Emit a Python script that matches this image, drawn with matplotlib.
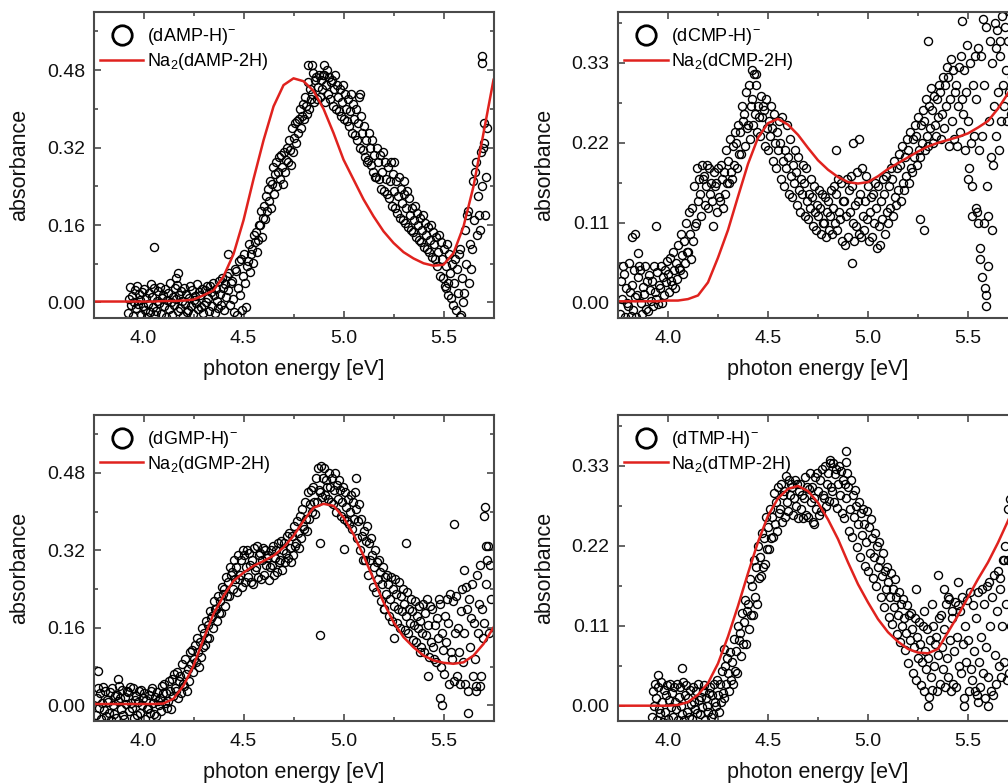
import matplotlib
matplotlib.use('Agg')

import matplotlib.pyplot as plt
import numpy as np
from matplotlib.lines import Line2D
from matplotlib.ticker import MultipleLocator, FormatStrFormatter

plt.rcParams['font.family'] = ['Liberation Sans', 'DejaVu Sans']
plt.rcParams['mathtext.default'] = 'regular'

# energies of the calculated curves (eV)
e_fit = np.round(np.arange(3.75, 5.751, 0.05), 3)

# measured spectra: one value every 5 meV, absorbance in units of 1e-3
amp_start = 3.92
amp_y = [
    -22, 8, 31, -5, 14, -28, 2, 25, -12, 35, -3, 18, 5, -25, 22, -8, 28, -15, 10, -30,
    -4, 20, -20, 38, 12, -10, 30, -26, -18, 4, 24, -2, 33, -23, 9, 16, -8, 27, -29, 6,
    20, -14, 40, 0, -26, 11, -6, 29, 7, 36, -17, 15, -11, 23, 3, -27, 30, -3, 18, -20,
    -16, 9, 34, -7, 25, -24, 5, 13, -1, 38, -13, 21, 16, -9, 28, -21, -5, 26, 2, 34,
    10, -18, 35, 22, -8, 40, 15, -22, 28, 4, -12, 45, 18, -5, 50, 30, -15, 38, 12, 55,
    25, 60, -6, 40, 45, 8, -20, 70, 65, -25, 30, 85, 15, 90, -15, 55, 100, 40, -10, 75,
    85, 120, 62, 100, 110, 82, 140, 125, 145, 105, 130, 160, 160, 190, 135, 175, 200, 172, 220, 190,
    235, 210, 250, 195, 245, 280, 225, 265, 290, 240, 270, 300, 255, 305, 280, 245, 310, 270, 295, 320,
    290, 335, 315, 285, 360, 310, 340, 370, 330, 375, 350, 380, 400, 360, 385, 410, 380, 425, 405, 390,
    455, 400, 440, 420, 430, 475, 415, 460, 465, 420, 445, 470, 425, 460, 440, 470, 470, 415, 450, 480,
    430, 465, 420, 455, 460, 405, 440, 470, 400, 450, 425, 395, 440, 385, 415, 450, 380, 430, 400, 375,
    420, 365, 395, 430, 350, 410, 380, 345, 400, 335, 370, 425, 320, 385, 350, 315, 365, 300, 335, 290,
    295, 350, 320, 285, 335, 270, 305, 260, 260, 320, 290, 255, 305, 235, 270, 310, 230, 290, 255, 225,
    280, 215, 250, 290, 200, 265, 230, 195, 250, 185, 220, 260, 175, 235, 205, 170, 225, 165, 195, 230,
    155, 215, 180, 150, 195, 145, 170, 200, 135, 185, 160, 130, 175, 125, 150, 180, 115, 165, 140, 110,
    155, 105, 130, 160, 95, 145, 120, 90, 135, 75, 105, 140, 55, 125, 90, 50, 110, 35, 75, 120,
    15, 100, 60, 10, 80, -5, 40, 90, -15, 70, 20, 100, 110, -25, 50, 0, 20, 150, 80, 180,
    190, 40, 120, 70, 110, 250, 170, 270, 290, 140, 220, 180, 150, 310, 240, 320, 330, 180, 260, 360]
amp_out_x = [4.05, 4.17, 4.16, 4.42, 4.84, 4.82, 4.90, 5.08, 5.69, 5.69, 5.70, 5.51, 5.52, 5.58, 5.25, 5.30]
amp_out_y = [115, 60, 50, 100, 490, 490, 490, 430, 510, 495, 370, 30, 40, -30, 290, 250]
amp_fit = [0.002, 0.002, 0.002, 0.002, 0.002, 0.002, 0.002, 0.003, 0.003, 0.004,
           0.006, 0.015, 0.025, 0.054, 0.10, 0.17, 0.255, 0.335, 0.405, 0.449,
           0.463, 0.457, 0.437, 0.40, 0.35, 0.295, 0.254, 0.213, 0.178, 0.147,
           0.123, 0.104, 0.091, 0.081, 0.076, 0.078, 0.102, 0.157, 0.24, 0.35, 0.46]

cmp_start = 3.76
cmp_y = [
    -15, 30, 5, 50, 40, -20, 20, 0, -5, 55, 15, -18, 25, -10, 45, 8, -20, 10, 35, 50,
    45, 0, -15, 22, 12, 50, -8, 30, -12, 38, 18, 2, 30, -5, 50, 15, 5, 42, -2, 25,
    20, 50, 0, 35, 10, 45, 28, 58, 40, 15, 62, 30, 25, 70, 45, 20, 55, 32, 80, 48,
    45, 95, 65, 40, 85, 55, 110, 70, 70, 125, 95, 60, 130, 85, 160, 105, 110, 185, 140, 170,
    150, 120, 190, 170, 175, 135, 160, 190, 130, 185, 150, 165, 140, 105, 180, 160, 165, 125, 185, 145,
    140, 190, 170, 130, 180, 150, 210, 165, 195, 165, 225, 180, 170, 215, 190, 235, 220, 185, 245, 205,
    235, 205, 270, 250, 260, 215, 290, 240, 245, 300, 225, 270, 280, 245, 315, 260, 300, 235, 270, 255,
    230, 285, 255, 270, 265, 215, 280, 240, 210, 250, 230, 270, 240, 195, 260, 220, 185, 235, 210, 250,
    220, 170, 255, 195, 160, 210, 185, 245, 200, 150, 225, 175, 145, 190, 165, 210, 180, 135, 200, 155,
    125, 170, 150, 190, 165, 120, 185, 140, 115, 150, 130, 170, 145, 105, 160, 125, 100, 135, 120, 155,
    130, 95, 150, 110, 110, 145, 90, 125, 140, 100, 120, 155, 95, 130, 160, 110, 150, 100, 170, 125,
    115, 165, 85, 140, 140, 80, 120, 170, 90, 155, 125, 175, 160, 110, 85, 135, 105, 180, 140, 95,
    150, 90, 185, 120, 100, 140, 175, 115, 160, 85, 125, 145, 90, 150, 110, 165, 130, 75, 160, 105,
    80, 140, 115, 170, 150, 95, 175, 125, 110, 160, 130, 185, 170, 120, 195, 145, 135, 185, 155, 205,
    190, 140, 215, 165, 155, 200, 175, 225, 210, 165, 235, 185, 180, 225, 200, 245, 230, 190, 255, 210,
    200, 245, 220, 265, 250, 210, 280, 230, 215, 270, 240, 295, 265, 220, 285, 245, 230, 280, 255, 300,
    290, 225, 260, 310, 240, 300, 270, 325, 310, 215, 280, 335, 250, 320, 225, 290, 300, 215, 270, 325,
    235, 340, 280, 260, 320, 210, 290, 355, 250, 185, 330, 220, 160, 300, 230, 340, 280, 125, 350, 210,
    60, 340, 230, 390, 300, 20, 380, 160, 120, 250, 360, 200, 330, 190, 270, 385, 230, 375, 290, 210,
    340, 250, 395, 300, 270, 380, 320, 250, 360, 290, 400, 260, 310, 395, 270, 350, 280, 370, 320, 400]
cmp_out_x = [3.82, 3.835, 3.85, 3.94, 4.42, 4.44, 4.84, 4.92, 4.925, 4.955, 5.28, 5.26, 5.30, 5.47,
             5.54, 5.55, 5.56, 5.57, 5.59, 5.59, 5.58, 5.60, 5.52, 5.50, 5.62, 5.64, 5.66]
cmp_out_y = [90, 94, 68, 105, 320, 315, 210, 55, 220, 225, 100, 115, 360, 387,
             130, 110, 75, 35, 10, -5, 110, 50, 120, 170, 100, 350, 360]
cmp_fit = [0.002, 0.002, 0.002, 0.002, 0.002, 0.003, 0.003, 0.005, 0.010, 0.028,
           0.062, 0.100, 0.146, 0.191, 0.227, 0.247, 0.253, 0.245, 0.231, 0.213,
           0.196, 0.183, 0.173, 0.166, 0.164, 0.166, 0.174, 0.184, 0.192, 0.200,
           0.208, 0.215, 0.220, 0.224, 0.228, 0.233, 0.241, 0.250, 0.267, 0.288, 0.315]

gmp_start = 3.76
gmp_y = [
    -20, 15, 35, -5, 25, -28, 5, 38, -10, 30, -22, 12, 8, -15, 28, -30, 35, 0, -18, 20,
    -25, 22, 10, 40, 15, -8, 32, -20, -28, 18, 2, 30, 28, -12, 38, 5, -5, 35, -25, 12,
    20, -20, 8, 30, -15, 32, 0, 15, 25, -28, 12, -8, -5, 22, -15, 30, 35, 5, -18, 18,
    -22, 28, 10, 0, 15, -12, 40, 25, 45, 5, 25, -5, 10, 50, 30, -8, 55, 20, 65, 35,
    30, 70, 15, 50, 60, 25, 85, 45, 40, 95, 65, 30, 75, 50, 110, 85, 115, 70, 95, 125,
    90, 140, 110, 80, 130, 100, 160, 120, 150, 125, 175, 140, 165, 140, 195, 180, 185, 160, 215, 200,
    200, 175, 225, 190, 215, 190, 245, 230, 240, 205, 265, 225, 255, 225, 285, 270, 275, 240, 300, 260,
    285, 235, 310, 260, 270, 300, 245, 320, 310, 255, 285, 320, 265, 315, 290, 255, 300, 250, 325, 280,
    285, 330, 265, 310, 315, 260, 300, 325, 270, 320, 290, 305, 310, 258, 285, 320, 290, 330, 270, 305,
    320, 275, 335, 295, 300, 340, 280, 320, 335, 295, 315, 350, 305, 355, 325, 295, 350, 310, 370, 330,
    335, 380, 355, 325, 390, 345, 405, 370, 365, 420, 385, 360, 440, 385, 415, 445, 400, 450, 420, 395,
    470, 420, 490, 445, 440, 495, 430, 470, 490, 435, 465, 450, 425, 480, 450, 420, 470, 415, 445, 480,
    400, 455, 425, 465, 445, 390, 420, 450, 385, 440, 410, 380, 425, 375, 400, 435, 365, 420, 385, 440,
    405, 345, 380, 415, 320, 385, 350, 300, 360, 300, 340, 370, 270, 335, 300, 345, 310, 245, 285, 320,
    235, 295, 260, 300, 275, 215, 250, 285, 200, 265, 230, 270, 250, 185, 220, 265, 175, 240, 205, 260,
    230, 170, 200, 255, 160, 225, 195, 240, 210, 155, 185, 235, 150, 200, 170, 220, 195, 135, 165, 215,
    130, 185, 160, 205, 175, 120, 150, 210, 110, 190, 145, 220, 165, 100, 205, 130, 200, 120, 95, 165,
    90, 180, 140, 220, 210, 80, 150, 115, 65, 185, 130, 220, 170, 45, 230, 110, 95, 215, 50, 150,
    225, 60, 160, 110, 45, 195, 240, 90, 150, 45, 245, 200, 30, 220, 120, 180, 250, 60, 170, 95,
    40, 270, 150, 210, 290, 60, 200, 140, 170, 410, 250, 300, 330, 150, 290, 220]
gmp_out_x = [3.77, 3.87, 4.88, 4.88, 5.00, 5.06, 5.31, 5.25, 5.42, 5.48, 5.49, 5.55, 5.62, 5.60,
             5.70, 5.71, 5.66, 5.68, 5.38, 5.20]
gmp_out_y = [72, 55, 145, 335, 322, 470, 335, 140, 60, 15, 0, 375, -15, 280,
             390, 330, 30, 40, 110, 200]
gmp_fit = [0.003, 0.003, 0.003, 0.003, 0.003, 0.003, 0.003, 0.004, 0.014, 0.041,
           0.082, 0.137, 0.189, 0.226, 0.257, 0.274, 0.288, 0.298, 0.309, 0.326,
           0.350, 0.381, 0.408, 0.416, 0.412, 0.388, 0.353, 0.309, 0.261, 0.213,
           0.172, 0.141, 0.120, 0.103, 0.093, 0.088, 0.086, 0.089, 0.103, 0.127, 0.161]

tmp_start = 3.92
tmp_y = [
    -15, 20, 0, 30, 10, -20, 25, -5, -10, 33, 5, -22, 22, -8, 15, 28, -18, 8, 30, -2,
    18, -15, 25, 5, -5, 30, -20, 12, 25, 0, -12, 32, -20, 15, 28, -8, 10, -15, 22, 2,
    -18, 25, 5, -5, 20, -10, 30, 8, -12, 12, -2, 20, 28, -20, 10, 0, -8, 18, 25, -15,
    15, -12, 30, 5, 0, 35, 15, -8, 30, 5, 47, 18, 10, 55, 30, 65, 45, 20, 74, 35,
    60, 30, 92, 48, 75, 45, 110, 90, 100, 68, 128, 85, 115, 145, 85, 130, 140, 105, 174, 125,
    165, 125, 200, 150, 190, 140, 220, 175, 205, 178, 238, 190, 230, 195, 260, 215, 245, 215, 270, 230,
    260, 232, 292, 250, 280, 240, 300, 265, 270, 305, 252, 290, 295, 260, 316, 280, 268, 310, 290, 305,
    300, 262, 285, 310, 275, 305, 258, 295, 305, 270, 290, 258, 285, 315, 262, 300, 260, 298, 320, 280,
    300, 252, 285, 315, 270, 320, 295, 262, 310, 268, 325, 290, 285, 330, 275, 305, 320, 282, 334, 300,
    295, 334, 280, 318, 325, 272, 305, 330, 290, 322, 265, 310, 258, 305, 285, 320, 300, 240, 270, 310,
    232, 290, 260, 297, 275, 218, 250, 280, 205, 265, 235, 270, 250, 192, 225, 268, 185, 245, 210, 256,
    230, 176, 205, 238, 165, 220, 190, 225, 200, 150, 178, 210, 135, 185, 160, 190, 170, 122, 150, 183,
    112, 160, 135, 174, 150, 98, 125, 156, 88, 140, 110, 147, 120, 76, 100, 138, 58, 125, 90, 128,
    105, 45, 80, 120, 35, 95, 65, 115, 85, 28, 60, 110, 20, 75, 50, 106, 65, 12, 90, 40,
    22, 110, 55, 85, 95, 20, 70, 120, 30, 125, 80, 50, 105, 25, 140, 65, 40, 147, 90, 20,
    120, 30, 75, 142, 25, 95, 138, 55, 130, 45, 150, 85, 10, 110, 60, 145, 90, 20, 156, 50,
    35, 138, 75, 20, 120, 15, 156, 60, 25, 95, 160, 45, 140, 10, 80, 165, 40, 170, 110, 20,
    150, 15, 180, 70, 30, 130, 185, 55, 175, 40, 110, 200, 60, 220, 140, 35, 200, 45, 284, 110]
tmp_out_x = [4.07, 3.95, 4.28, 4.81, 4.89, 4.89, 4.73, 5.24, 5.30, 5.35, 5.45, 5.40, 5.48, 5.55,
             5.60, 5.70, 5.68, 5.66, 5.42, 5.38, 5.28, 5.32]
tmp_out_y = [52, 42, 78, 338, 350, 335, 250, 160, 0, 180, 170, 150, 0, 5,
             0, 270, 200, 160, 130, 160, 130, 140]
tmp_fit = [0.0, 0.0, 0.0, 0.0, 0.0, 0.0, 0.001, 0.005, 0.015, 0.031,
           0.058, 0.095, 0.137, 0.182, 0.225, 0.261, 0.285, 0.298, 0.302, 0.295,
           0.279, 0.256, 0.229, 0.197, 0.167, 0.142, 0.119, 0.101, 0.088, 0.078,
           0.073, 0.072, 0.078, 0.101, 0.124, 0.149, 0.174, 0.197, 0.224, 0.254, 0.285]

panels = [
    dict(name='dAMP', x0=amp_start, y=amp_y, ox=amp_out_x, oy=amp_out_y, fit=amp_fit,
         ylim=(-0.032, 0.60), ymaj=0.16, pos=[0.0928, 0.5944, 0.3968, 0.3903]),
    dict(name='dCMP', x0=cmp_start, y=cmp_y, ox=cmp_out_x, oy=cmp_out_y, fit=cmp_fit,
         ylim=(-0.021, 0.40), ymaj=0.11, pos=[0.6131, 0.5944, 0.3968, 0.3903]),
    dict(name='dGMP', x0=gmp_start, y=gmp_y, ox=gmp_out_x, oy=gmp_out_y, fit=gmp_fit,
         ylim=(-0.032, 0.60), ymaj=0.16, pos=[0.0928, 0.0804, 0.3968, 0.3907]),
    dict(name='dTMP', x0=tmp_start, y=tmp_y, ox=tmp_out_x, oy=tmp_out_y, fit=tmp_fit,
         ylim=(-0.021, 0.40), ymaj=0.11, pos=[0.6131, 0.0804, 0.3968, 0.3907]),
]

spine_col = '#4a4a4a'
fig = plt.figure(figsize=(10.08, 7.84), dpi=100)

for p in panels:
    ax = fig.add_axes(p['pos'])
    y = np.array(p['y']) / 1000.0
    x = p['x0'] + 0.005 * np.arange(len(y))
    xs = np.concatenate([x, p['ox']])
    ys = np.concatenate([y, np.array(p['oy']) / 1000.0])
    ax.plot(xs, ys, 'o', mfc='none', mec='black', ms=5.8, mew=1.0)
    line, = ax.plot(e_fit, p['fit'], color='#e0221e', lw=1.8)

    ax.set_xlim(3.75, 5.75)
    ax.set_ylim(*p['ylim'])
    ax.xaxis.set_major_locator(MultipleLocator(0.5))
    ax.xaxis.set_minor_locator(MultipleLocator(0.25))
    ax.yaxis.set_major_locator(MultipleLocator(p['ymaj']))
    ax.yaxis.set_minor_locator(MultipleLocator(p['ymaj'] / 2))
    ax.xaxis.set_major_formatter(FormatStrFormatter('%.1f'))
    ax.yaxis.set_major_formatter(FormatStrFormatter('%.2f'))
    ax.tick_params(which='both', direction='in', top=True, right=True,
                   color=spine_col, width=1.2, labelsize=14, labelcolor='#111111')
    ax.tick_params(which='major', length=5)
    ax.tick_params(which='minor', length=3)
    ax.tick_params(axis='x', which='major', pad=9)
    ax.tick_params(axis='y', which='major', pad=6)
    for s in ax.spines.values():
        s.set_color(spine_col)
        s.set_linewidth(1.5)

    ax.set_xlabel('photon energy [eV]', fontsize=15.5, labelpad=8, color='#111111')
    ax.set_ylabel('absorbance', fontsize=15.5, labelpad=12, color='#111111')

    pts_handle = Line2D([], [], ls='none', marker='o', mfc='none', mec='black', ms=14, mew=2.0)
    ax.legend(handles=[pts_handle, line],
              labels=['(%s-H)$^{-}$' % p['name'], 'Na$_2$(%s-2H)' % p['name']],
              loc='upper left', frameon=False, fontsize=13,
              handlelength=2.4, handletextpad=0.2, labelspacing=0.2,
              borderaxespad=0.6, borderpad=0.2, bbox_to_anchor=(-0.02, 1.0))

fig.savefig('out.png', dpi=100)
